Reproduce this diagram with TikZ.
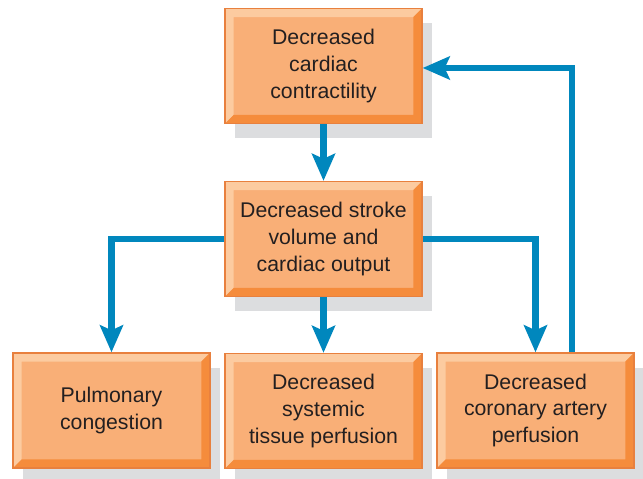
\documentclass[tikz,border=0pt]{standalone}
\usepackage{fontspec}
\setmainfont{Liberation Sans}
\usetikzlibrary{arrows.meta,shadows}
\definecolor{hfInk}{HTML}{231F20}
\definecolor{hfFill}{HTML}{F9AF77}
\definecolor{hfLight}{HTML}{FCCBA0}
\definecolor{hfDark}{HTML}{F58C3C}
\definecolor{hfEdge}{HTML}{E8803E}
\definecolor{hfShadow}{HTML}{DCDDDF}
\definecolor{hfBlue}{HTML}{0087BD}
\tikzset{
  hf box/.style={
    fill=hfFill,
    draw=hfEdge,
    line width=.8pt,
    minimum width=3.94cm,
    minimum height=2.3cm,
    align=center,
    text=hfInk,
    font=\fontsize{12.1}{15.1}\selectfont,
    general shadow={fill=hfShadow, shadow xshift=2mm, shadow yshift=-2.9mm},
    path picture={
      \coordinate (bnw) at (path picture bounding box.north west);
      \coordinate (bne) at (path picture bounding box.north east);
      \coordinate (bsw) at (path picture bounding box.south west);
      \coordinate (bse) at (path picture bounding box.south east);
      \fill[hfLight] (bnw) -- (bne) -- ([shift={(-1.7mm,-1.7mm)}]bne)
        -- ([shift={(1.7mm,-1.7mm)}]bnw) -- ([shift={(1.7mm,1.7mm)}]bsw)
        -- (bsw) -- cycle;
      \fill[hfDark] (bse) -- (bne) -- ([shift={(-1.7mm,-1.7mm)}]bne)
        -- ([shift={(-1.7mm,1.7mm)}]bse) -- ([shift={(1.7mm,1.7mm)}]bsw)
        -- (bsw) -- cycle;
    }
  },
  hf arrow/.style={
    draw=hfBlue,
    line width=3.7pt,
    -{Stealth[length=5.4mm,width=4.6mm,inset=1mm]}
  }
}

\begin{document}
\begin{tikzpicture}[x=.02cm,y=-.02cm]
  \useasboundingbox[fill=white] (0,0) rectangle (643,479);

  \node[hf box] (contract) at (323.5,66) {Decreased\\cardiac\\contractility};
  \node[hf box] (output) at (323.5,239) {Decreased stroke\\volume and\\cardiac output};
  \node[hf box] (pulm) at (111.5,410.5) {Pulmonary\\congestion};
  \node[hf box] (tissue) at (323.5,411) {Decreased\\systemic\\tissue perfusion};
  \node[hf box] (coronary) at (535.5,410.5) {Decreased\\coronary artery\\perfusion};

  \draw[hf arrow] (contract) -- (output);
  \draw[hf arrow] (output) -- (tissue);
  \draw[hf arrow] (output.west) -| (pulm.north);
  \draw[hf arrow] (output.east) -| (coronary.north);
  \draw[hf arrow] ([xshift=.73cm]coronary.north) |- ([yshift=-.04cm]contract.east);
\end{tikzpicture}
\end{document}
